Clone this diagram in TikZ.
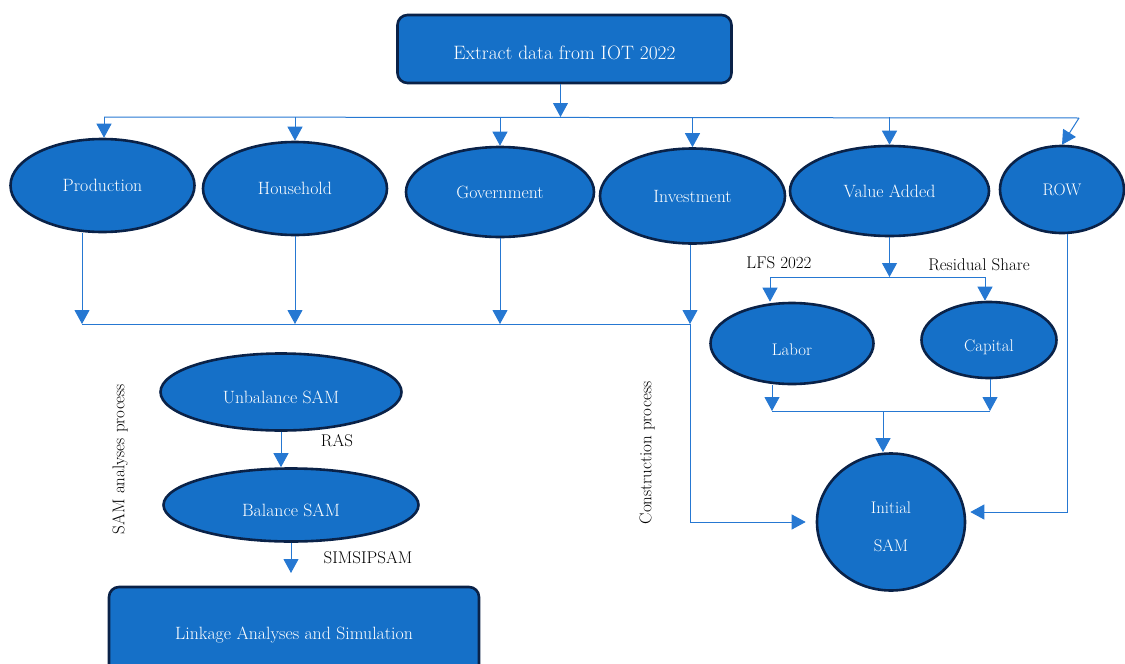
\documentclass[tikz,border=0pt]{standalone}
\usetikzlibrary{shapes.geometric,arrows.meta}
\definecolor{boxfill}{RGB}{21,112,200}
\definecolor{boxedge}{RGB}{10,34,72}
\definecolor{linkc}{RGB}{38,120,210}
\newcommand\lowr[2]{\raisebox{-#1}[\height][\depth]{#2}}
\begin{document}
\begin{tikzpicture}[x=1pt,y=-1pt,
  ell/.style={ellipse, draw=boxedge, line width=2.6pt, fill=boxfill, text=white, inner sep=0pt, font=\fontsize{17.8}{20}\selectfont},
  ellsm/.style={ell, font=\fontsize{16.8}{19}\selectfont},
  rbox/.style={rectangle, rounded corners=10pt, draw=boxedge, line width=2.6pt, fill=boxfill, text=white, inner sep=0pt},
  conn/.style={linkc, line width=1pt},
  arr/.style={conn, -{Triangle[length=14pt,width=15pt]}},
  lbl/.style={text=black, inner sep=0pt, font=\fontsize{17}{20}\selectfont}]
\clip (0,0) rectangle (1125,664);
% nodes
\node[rbox, minimum width=334pt, minimum height=68pt, font=\fontsize{19.4}{23}\selectfont] (top) at (564.5,49) {\lowr{4pt}{Extract data from IOT 2022}};
\node[ell, minimum width=184pt, minimum height=93pt] (prod) at (102.5,185.5) {Production};
\node[ell, minimum width=184pt, minimum height=93pt] (hh) at (295,188.5) {Household};
\node[ell, minimum width=188pt, minimum height=90pt] (gov) at (500,192) {Government};
\node[ell, minimum width=185pt, minimum height=95pt] (inv) at (692.5,196) {Investment};
\node[ell, minimum width=199pt, minimum height=90pt] (va) at (889.5,191) {Value Added};
\node[ellsm, minimum width=124pt, minimum height=87pt] (row) at (1062,189.5) {ROW};
\node[ellsm, minimum width=163pt, minimum height=81pt] (lab) at (792,343.5) {\lowr{6pt}{Labor}};
\node[ellsm, minimum width=135pt, minimum height=76pt] (cap) at (989,340) {\lowr{7pt}{Capital}};
\node[ellsm, minimum width=148pt, minimum height=137pt] (init) at (891,522) {\lowr{7pt}{\begin{tabular}{@{}c@{}}Initial\\[19pt]SAM\end{tabular}}};
\node[ell, minimum width=241pt, minimum height=77pt] (unb) at (281,392) {\lowr{5pt}{Unbalance SAM}};
\node[ell, minimum width=255pt, minimum height=73pt] (bal) at (291,505) {\lowr{5pt}{Balance SAM}};
\node[rbox, minimum width=370pt, minimum height=96pt, font=\fontsize{17.8}{21}\selectfont] (link) at (294,635) {Linkage Analyses and Simulation};
% labels
\node[lbl] (lfs) at (779,263) {LFS 2022};
\node[lbl] (res) at (979,265) {Residual Share};
\node[lbl] (ras) at (337,441) {RAS};
\node[lbl] (sim) at (368,558) {SIMSIPSAM};
\node[lbl, rotate=90] (sap) at (120,459) {SAM analyses process};
\node[lbl, rotate=90] (cp) at (647,453) {Construction process};
% top bus
\coordinate (busL) at (104,117);
\coordinate (busR) at (1079,118);
\draw[arr] ([xshift=-4pt]top.south) -- ([xshift=-4pt]top.south |- busL);
\draw[conn] (busL) -- (busR);
\draw[arr] (busL) -- (busL |- prod.north);
\foreach \n in {hh,gov,inv,va} \draw[arr] (\n.north |- busL) -- (\n.north);
\draw[arr] (busR) -- (row.north);
% collector
\coordinate (colL) at (82,324);
\coordinate (colR) at (690,324);
\draw[arr] (prod.south -| colL) -- (colL);
\draw[arr] (hh.south) -- (hh.south |- colL);
\draw[arr] (gov.south) -- (gov.south |- colL);
\draw[arr] (inv.south -| colR) -- (colR);
\draw[conn] (colL) -- (colR);
\draw[arr, shorten >=10pt] (colR) -- (colR |- init.west) -- (init.west);
% value added split
\coordinate (vaB) at (889.5,277);
\coordinate (labA) at (770,277);
\coordinate (capA) at (985,277);
\draw[arr] (va.south) -- (vaB);
\draw[conn] (labA) -- (capA);
\draw[arr] (labA) -- (labA |- lab.north);
\draw[arr] (capA) -- (capA |- cap.north);
% merge to initial SAM
\coordinate (mL) at (772,411);
\coordinate (mR) at (990,411);
\coordinate (mM) at (883,411);
\draw[arr] (lab.south -| mL) -- (mL);
\draw[arr] (cap.south -| mR) -- (mR);
\draw[conn] (mL) -- (mR);
\draw[arr] (mM) -- (mM |- init.north);
% ROW
\coordinate (rowD) at (1067,512);
\draw[arr, shorten >=4pt] (row.south -| rowD) -- (rowD) -- (init.east |- rowD);
% SAM analyses
\draw[arr] (unb.south) -- (unb.south |- bal.north);
\coordinate (simE) at (291,573);
\draw[arr] (bal.south) -- (simE);
\end{tikzpicture}
\end{document}
